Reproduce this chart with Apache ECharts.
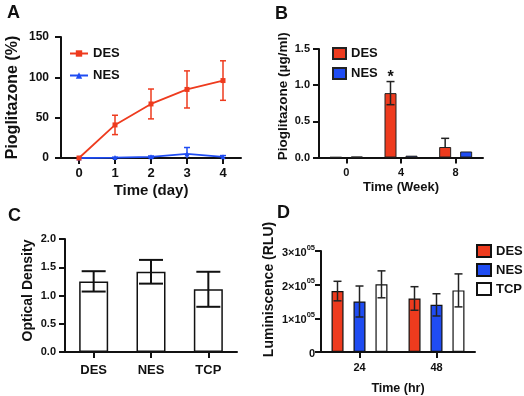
<!DOCTYPE html>
<html><head><meta charset="utf-8">
<script src="https://cdn.jsdelivr.net/npm/echarts@6/dist/echarts.min.js"></script>
<style>html,body{margin:0;padding:0;background:#fff}#c{width:524px;height:396px}</style>
</head><body><div id="c"></div>
<script>
// ---------- DATA ----------
// Panel A: release over days (%)
const aDays = ['0', '1', '2', '3', '4'];
const aDES = [0, 41, 67, 85, 96];
const aDESerr = [0, 12, 18.5, 23, 24.5];
const aNES = [0, 0.5, 1.5, 5, 1.5];
const aNESerr = [0, 0.5, 1, 8, 1.5];
// Panel B: pioglitazone (ug/ml) by week
const bWeeks = ['0', '4', '8'];
const bDES = [0.005, 0.89, 0.145];
const bDESerrUp = [0, 0.16, 0.12];
const bDESerrDown = [0, 0.16, 0];
const bNES = [0.012, 0.025, 0.083];
const bSig = ['', '*', ''];
// Panel C: optical density
const cGroups = ['DES', 'NES', 'TCP'];
const cOD = [1.25, 1.42, 1.11];
const cODerr = [0.18, 0.21, 0.31];
// Panel D: luminescence (RLU) by hour
const dHours = ['24', '48'];
const dDES = [181000, 159000];
const dDESerr = [29000, 35000];
const dNES = [150000, 140000];
const dNESerr = [46000, 33000];
const dTCP = [201000, 183000];
const dTCPerr = [40000, 49000];

// ---------- STYLE ----------
const FONT = '"Liberation Sans", Arial, Helvetica, sans-serif';
const RED = '#ee3b1e', BLUE = '#1f4cf2', BLK = '#111';
const axisLine = {show: true, lineStyle: {color: BLK, width: 2}};
const axisTickOut = {show: true, length: 6, lineStyle: {color: BLK, width: 2}};
function lbl(size, margin, extra) {
  return Object.assign({color: BLK, fontFamily: FONT, fontWeight: 'bold', fontSize: size, margin: margin}, extra || {});
}
function nameStyle(size, extra) {
  return Object.assign({color: BLK, fontFamily: FONT, fontWeight: 'bold', fontSize: size}, extra || {});
}
function titleStyle() {
  return {fontSize: 18, fontWeight: 'bold', color: BLK, fontFamily: FONT};
}
function legendText() {
  return {fontSize: 13, fontWeight: 'bold', color: BLK, fontFamily: FONT};
}

// error bar custom series; bars grouped: n bars of width bw px with gap gp px
function errSeries(name, xi, yi, cats, vals, up, down, idx, n, bw, gp, cap, color, lw) {
  const data = cats.map((c, i) => [i, vals[i], up[i], down[i]]);
  return {
    type: 'custom', name: name, xAxisIndex: xi, yAxisIndex: yi, z: 5,
    silent: true, legendHoverLink: false,
    data: data,
    renderItem: function (params, api) {
      const x = api.value(0), y = api.value(1), u = api.value(2), d = api.value(3);
      if (!u && !d) return null;
      const c = api.coord([x, y]);
      const total = n * bw + (n - 1) * gp;
      const cx = c[0] - total / 2 + idx * (bw + gp) + bw / 2;
      const pt = api.coord([x, y + u])[1];
      const pb = api.coord([x, Math.max(0, y - d)])[1];
      const st = {stroke: color, lineWidth: lw, fill: null};
      const ch = [{type: 'line', shape: {x1: cx, y1: pt, x2: cx, y2: pb}, style: st}];
      if (u) ch.push({type: 'line', shape: {x1: cx - cap / 2, y1: pt, x2: cx + cap / 2, y2: pt}, style: st});
      if (d && y - d > 0) ch.push({type: 'line', shape: {x1: cx - cap / 2, y1: pb, x2: cx + cap / 2, y2: pb}, style: st});
      return {type: 'group', children: ch};
    }
  };
}

const chart = echarts.init(document.getElementById('c'), null, {renderer: 'canvas'});
const supFmt = function (v) {
  if (v === 0) return '{b|0}';
  return '{b|' + (v / 100000) + '×10}{s|05}';
};

const option = {
  animation: false,
  backgroundColor: '#fff',
  textStyle: {fontFamily: FONT},
  title: [
    {text: 'A', left: 7, top: 4, padding: 0, textStyle: titleStyle()},
    {text: 'B', left: 275, top: 5, padding: 0, textStyle: titleStyle()},
    {text: 'C', left: 8, top: 207, padding: 0, textStyle: titleStyle()},
    {text: 'D', left: 277, top: 204, padding: 0, textStyle: titleStyle()}
  ],
  legend: [
    {data: ['A-DES', 'A-NES'], orient: 'vertical', left: 64, top: 42, itemWidth: 18, itemHeight: 8, itemGap: 9,
     formatter: n => n.split('-')[1], textStyle: legendText()},
    {data: ['B-DES', 'B-NES'], orient: 'vertical', left: 327, top: 42, itemWidth: 13, itemHeight: 11, itemGap: 7,
     icon: 'rect', formatter: n => n.split('-')[1], textStyle: legendText()},
    {data: ['D-DES', 'D-NES', 'D-TCP'], orient: 'vertical', left: 471, top: 239, itemWidth: 14, itemHeight: 12, itemGap: 5,
     icon: 'rect', formatter: n => n.split('-')[1], textStyle: legendText()}
  ],
  grid: [
    {left: 61, top: 37, width: 180, height: 121},
    {left: 319, top: 49, width: 164, height: 108.5},
    {left: 65, top: 239, width: 172, height: 113},
    {left: 321, top: 251, width: 154, height: 103}
  ],
  xAxis: [
    {gridIndex: 0, type: 'category', data: aDays, axisLine: axisLine,
     axisTick: Object.assign({alignWithLabel: true}, axisTickOut), axisLabel: lbl(13, 9),
     name: 'Time (day)', nameLocation: 'middle', nameGap: 25, nameTextStyle: nameStyle(15)},
    {gridIndex: 1, type: 'category', data: bWeeks, axisLine: axisLine,
     axisTick: Object.assign({alignWithLabel: true}, axisTickOut), axisLabel: lbl(11, 10),
     name: 'Time (Week)', nameLocation: 'middle', nameGap: 23, nameTextStyle: nameStyle(13)},
    {gridIndex: 2, type: 'category', data: cGroups, axisLine: axisLine,
     axisTick: Object.assign({alignWithLabel: true}, axisTickOut), axisLabel: lbl(13, 12)},
    {gridIndex: 3, type: 'category', data: dHours, axisLine: axisLine,
     axisTick: Object.assign({alignWithLabel: true}, axisTickOut), axisLabel: lbl(11, 10),
     name: 'Time (hr)', nameLocation: 'middle', nameGap: 30, nameTextStyle: nameStyle(12.5)}
  ],
  yAxis: [
    {gridIndex: 0, type: 'value', min: 0, max: 150, interval: 50, axisLine: axisLine, axisTick: axisTickOut,
     splitLine: {show: false}, axisLabel: lbl(12, 12),
     name: 'Pioglitazone (%)', nameLocation: 'middle', nameGap: 40, nameTextStyle: nameStyle(16)},
    {gridIndex: 1, type: 'value', min: 0, max: 1.5, interval: 0.5, axisLine: axisLine, axisTick: axisTickOut,
     splitLine: {show: false}, axisLabel: lbl(11, 9, {formatter: v => v.toFixed(1)}),
     name: 'Pioglitazone (µg/ml)', nameLocation: 'middle', nameGap: 29,
     nameTextStyle: nameStyle(13.5, {padding: [0, 0, 0, 14]})},
    {gridIndex: 2, type: 'value', min: 0, max: 2, interval: 0.5, axisLine: axisLine, axisTick: axisTickOut,
     splitLine: {show: false}, axisLabel: lbl(11, 9, {formatter: v => v.toFixed(1)}),
     name: 'Optical Density', nameLocation: 'middle', nameGap: 30,
     nameTextStyle: nameStyle(14, {padding: [0, 0, 0, 10]})},
    {gridIndex: 3, type: 'value', min: 0, max: 300000, interval: 100000, axisLine: axisLine, axisTick: axisTickOut,
     splitLine: {show: false},
     axisLabel: lbl(11, 6, {formatter: supFmt, rich: {
       b: {fontFamily: FONT, fontWeight: 'bold', fontSize: 11, color: BLK, verticalAlign: 'bottom', lineHeight: 15},
       s: {fontFamily: FONT, fontWeight: 'bold', fontSize: 7.5, color: BLK, verticalAlign: 'top', lineHeight: 15}}}),
     name: 'Luminiscence (RLU)', nameLocation: 'middle', nameGap: 45,
     nameTextStyle: nameStyle(14, {padding: [0, 0, 0, 24]})}
  ],
  series: [
    // Panel A
    {name: 'A-DES', type: 'line', xAxisIndex: 0, yAxisIndex: 0, data: aDES, color: RED,
     symbol: 'rect', symbolSize: 5, lineStyle: {width: 1.8, color: RED}, itemStyle: {color: RED}, z: 4},
    {name: 'A-NES', type: 'line', xAxisIndex: 0, yAxisIndex: 0, data: aNES, color: BLUE,
     symbol: 'triangle', symbolSize: 5, lineStyle: {width: 1.8, color: BLUE}, itemStyle: {color: BLUE}, z: 3},
    errSeries('A-DES', 0, 0, aDays, aDES, aDESerr, aDESerr, 0, 1, 0, 0, 6, RED, 1.5),
    errSeries('A-NES', 0, 0, aDays, aNES, aNESerr, aNESerr, 0, 1, 0, 0, 6, BLUE, 1.5),
    // Panel B
    {name: 'B-DES', type: 'bar', xAxisIndex: 1, yAxisIndex: 1, barWidth: 12, barGap: '75%',
     itemStyle: {color: RED, borderColor: '#222', borderWidth: 1},
     data: bDES.map((v, i) => ({value: v, label: {show: bSig[i] !== '', formatter: bSig[i], position: 'top', distance: 8,
       fontSize: 16, fontWeight: 'bold', color: BLK, fontFamily: FONT}}))},
    {name: 'B-NES', type: 'bar', xAxisIndex: 1, yAxisIndex: 1, barWidth: 12,
     itemStyle: {color: BLUE, borderColor: '#222', borderWidth: 1}, data: bNES},
    errSeries('B-DES', 1, 1, bWeeks, bDES, bDESerrUp, bDESerrDown, 0, 2, 12, 9, 8, '#222', 1.5),
    // Panel C
    {name: 'C-OD', type: 'bar', xAxisIndex: 2, yAxisIndex: 2, barWidth: 29, data: cOD,
     itemStyle: {color: '#fff', borderColor: BLK, borderWidth: 1.5}},
    errSeries('C-OD', 2, 2, cGroups, cOD, cODerr, cODerr, 0, 1, 29, 0, 24, BLK, 2),
    // Panel D
    {name: 'D-DES', type: 'bar', xAxisIndex: 3, yAxisIndex: 3, barWidth: 12, barGap: '83%', data: dDES,
     itemStyle: {color: RED, borderColor: BLK, borderWidth: 1.2}},
    {name: 'D-NES', type: 'bar', xAxisIndex: 3, yAxisIndex: 3, barWidth: 12, barGap: '83%', data: dNES,
     itemStyle: {color: BLUE, borderColor: BLK, borderWidth: 1.2}},
    {name: 'D-TCP', type: 'bar', xAxisIndex: 3, yAxisIndex: 3, barWidth: 12, barGap: '83%', data: dTCP,
     itemStyle: {color: '#fff', borderColor: BLK, borderWidth: 1.2}},
    errSeries('D-DES', 3, 3, dHours, dDES, dDESerr, dDESerr, 0, 3, 12, 10, 8, '#222', 1.5),
    errSeries('D-NES', 3, 3, dHours, dNES, dNESerr, dNESerr, 1, 3, 12, 10, 8, '#222', 1.5),
    errSeries('D-TCP', 3, 3, dHours, dTCP, dTCPerr, dTCPerr, 2, 3, 12, 10, 8, '#222', 1.5)
  ]
};
chart.setOption(option);
</script></body></html>
